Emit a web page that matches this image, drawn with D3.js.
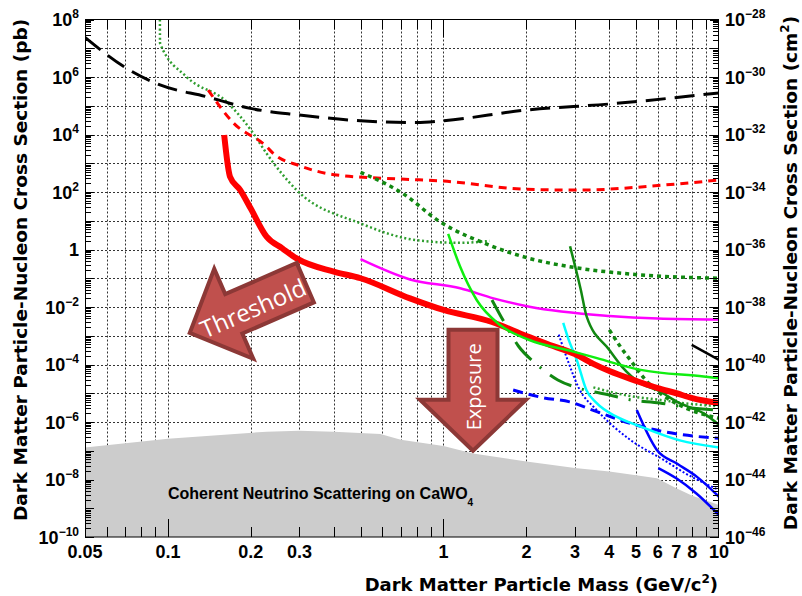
<!DOCTYPE html>
<html>
<head>
<meta charset="utf-8">
<script src="https://cdn.jsdelivr.net/npm/d3@7"></script>
<style>
  body { margin: 0; background: #fff; }
  svg { display: block; }
  .tick-label { font-family: "Liberation Sans", Arial, sans-serif; font-weight: bold; font-size: 18px; fill: #000; }
  .title { font-family: "DejaVu Sans", sans-serif; font-weight: bold; fill: #000; }
  .arrow-text { font-family: "Open Sans", sans-serif; fill: #fff; }
</style>
</head>
<body>
<div id="chart"></div>
<script>
// ---- data: mass in GeV/c^2, cross section in pb ----
var massLabels = [0.05, 0.1, 0.2, 0.3, 1, 2, 3, 4, 5, 6, 7, 8, 10];
var leftExponents = [8, 6, 4, 2, 0, -2, -4, -6, -8, -10];
var pbToCm2 = -36; // 1 pb = 1e-36 cm^2

var blackDashed = [[0.05, 2.4e7], [0.0708, 2.0e6], [0.0936, 5.3e5], [0.138, 2.07e5], [0.199, 8.1e4], [0.30, 4.8e4],
  [0.50, 3.0e4], [0.80, 2.6e4], [1.0, 3.0e4], [2.0, 7.1e4], [4.0, 1.15e5], [10, 2.8e5]];
var redDashed = [[0.140, 3.5e5], [0.173, 2.5e4], [0.228, 3.8e3], [0.241, 2.2e3], [0.30, 822], [0.41, 390],
  [0.695, 283], [1.0, 240], [2.0, 124], [3.13, 117], [6.3, 174], [10, 261]];
var redSolid = [[0.16, 9.6e3], [0.168, 340], [0.183, 117], [0.2, 26], [0.228, 2.8], [0.26, 1.1], [0.293, 0.49],
  [0.4, 0.17], [0.5, 0.1], [0.756, 0.02], [1.0, 7.9e-3], [1.5, 3.0e-3], [2.0, 9.8e-4], [2.5, 4.4e-4], [3.0, 2.3e-4],
  [3.5, 1.05e-4], [4.0, 5.9e-5], [5.0, 2.7e-5], [6.0, 1.5e-5], [7.0, 1.0e-5], [8.0, 6.8e-6], [10, 4.6e-6]];
var lightGreenDotted = [[0.0935, 1e8], [0.0936, 1.5e7], [0.117, 1.0e6], [0.163, 1.4e5], [0.204, 1.1e4],
  [0.228, 2.2e3], [0.293, 117], [0.5, 8.1], [0.8, 2.1], [1.15, 1.7], [1.47, 2.0]];
var darkGreenDotted = [[0.5, 484], [0.71, 90], [0.97, 9.3], [1.47, 1.4], [2.05, 0.49], [2.96, 0.24], [4.76, 0.14], [10, 0.1]];
var magenta = [[0.5, 0.46], [0.756, 0.091], [1.15, 0.045], [1.52, 0.020], [2.05, 0.0102], [4.0, 4.9e-3], [6.0, 4.0e-3], [10, 3.7e-3]];
var brightGreen = [[1.04, 3.5], [1.15, 0.25], [1.32, 0.0175], [1.6, 2.4e-3], [2.05, 7.1e-4], [2.96, 2.8e-4],
  [3.5, 1.8e-4], [5.2, 6.5e-5], [8.8, 3.8e-5], [10, 3.3e-5]];
var darkGreenSolid = [[2.88, 1.3], [3.15, 0.04], [3.31, 4.6e-3], [4.0, 3.2e-4], [4.45, 8.3e-5], [5.2, 2.2e-5],
  [5.95, 1.3e-5], [7.2, 4.5e-6], [8.8, 2.0e-6], [10, 8e-7]];
var darkGreenDashDot = [[1.5, 0.0175], [1.67, 2.7e-3], [1.87, 4.4e-4], [2.17, 1.05e-4], [2.6, 2.9e-5], [3.1, 1.5e-5],
  [4.0, 8.7e-6], [4.76, 5.9e-6], [6.1, 4.6e-6], [7.5, 3.3e-6], [10, 2.6e-6]];
var darkGreenDotted2 = [[4.0, 1.6e-3], [4.4, 4e-4], [4.76, 1.45e-4], [5.4, 3e-5], [6.2, 9e-6], [7.4, 3.4e-6], [10, 1.35e-6]];
var lightGreenDotted2 = [[3.5, 1.6e-5], [4.76, 8e-6], [6.0, 6e-6], [7.5, 4.5e-6], [10, 3.5e-6]];
var cyan = [[2.72, 2.8e-3], [2.85, 7e-4], [3.05, 1.4e-4], [3.3, 1.3e-5], [3.6, 4.5e-6], [4.26, 1.5e-6],
  [5.2, 6.9e-7], [7.2, 2.3e-7], [10, 1.3e-7]];
var blueDashed = [[1.79, 1.3e-5], [2.3, 7e-6], [2.87, 5e-6], [3.6, 2.3e-6], [4.76, 9e-7], [6.3, 4.6e-7], [10, 2.7e-7]];
var blueDotted = [[2.62, 1.1e-3], [2.85, 1.1e-4], [3.1, 1.5e-5], [3.6, 2.6e-6], [4.76, 2.4e-7], [6.3, 4.8e-8],
  [7.5, 1.7e-8], [10, 4.3e-9]];
var blueSolid1 = [[5.03, 2.6e-6], [5.95, 1.07e-7], [7.03, 3.6e-8], [8.3, 1.26e-8], [10, 2.5e-9]];
var blueSolid2 = [[6.02, 2.5e-8], [7.0, 1.1e-8], [8.3, 3.2e-9], [10, 5.8e-10]];
var blackSolid = [[7.96, 4.8e-4], [10, 1.45e-4]];
var neutrinoFloor = [[0.05, 1.3e-7], [0.1, 2.6e-7], [0.228, 4.6e-7], [0.3, 5.0e-7], [0.4, 4.6e-7], [0.59, 3.8e-7],
  [0.7, 2.4e-7], [1.0, 1.46e-7], [1.28, 8.1e-8], [2.0, 4.2e-8], [3.0, 2.5e-8], [4.0, 1.9e-8], [5.0, 1.4e-8],
  [5.95, 1.1e-8], [7.0, 5e-9], [8.0, 2.7e-9], [10, 1.3e-9]];

var width = 802, height = 596;
var margin = {top: 19.5, right: 83, bottom: 59, left: 85};

var x = d3.scaleLog().domain([0.05, 10]).range([margin.left, width - margin.right]);
var y = d3.scaleLog().domain([1e-10, 1e8]).range([height - margin.bottom, margin.top]);
var xL = x.range()[0], xR = x.range()[1], yT = y.range()[1], yB = y.range()[0];

var svg = d3.select("#chart").append("svg")
  .attr("width", width)
  .attr("height", height);

svg.append("clipPath").attr("id", "plot-clip")
  .append("rect").attr("x", xL).attr("y", yT).attr("width", xR - xL).attr("height", yB - yT);

// tick positions on the mass axis (1..9 per decade)
var massTicks = [];
[0.01, 0.1, 1].forEach(function(dec) {
  for (var k = 1; k < 10; k++) {
    var m = +(k * dec).toPrecision(3);
    if (m > 0.05 && m < 10) massTicks.push(m);
  }
});
var decades = d3.range(-10, 9);
var snap = function(v) { return Math.round(v) + 0.5; };

// dotted grid
var grid = svg.append("g")
  .attr("stroke", "#333")
  .attr("stroke-width", 1)
  .attr("stroke-dasharray", "2,2");
grid.selectAll(".vgrid").data(massTicks).enter().append("line")
  .attr("x1", function(d) { return snap(x(d)); })
  .attr("x2", function(d) { return snap(x(d)); })
  .attr("y1", yT).attr("y2", yB);
grid.selectAll(".hgrid").data(decades.slice(1, -1)).enter().append("line")
  .attr("x1", xL).attr("x2", xR)
  .attr("y1", function(d) { return snap(y(Math.pow(10, d))); })
  .attr("y2", function(d) { return snap(y(Math.pow(10, d))); });

// coherent neutrino scattering region
svg.append("path")
  .datum(neutrinoFloor)
  .attr("fill", "#cccccc")
  .attr("d", d3.area()
    .x(function(d) { return x(d[0]); })
    .y0(yB)
    .y1(function(d) { return y(d[1]); }));

svg.append("text")
  .attr("class", "tick-label")
  .attr("x", 168).attr("y", 499)
  .style("font-size", "16px")
  .text("Coherent Neutrino Scattering on CaWO")
  .append("tspan").attr("dy", 7).style("font-size", "10px").text("4");

// exclusion curves
var series = [
  {data: lightGreenDotted, color: "#2f9e2f", w: 2.5, dash: "2,2.5"},
  {data: blackDashed, color: "#000", w: 3, dash: "20,9"},
  {data: redDashed, color: "#ff0000", w: 3, dash: "8,6"},
  {data: darkGreenDotted, color: "#118811", w: 3.5, dash: "4,4"},
  {data: magenta, color: "#ff00ff", w: 2.5},
  {data: lightGreenDotted2, color: "#2f9e2f", w: 2.5, dash: "2,2.5"},
  {data: darkGreenDashDot, color: "#118811", w: 3, dash: "24,11,2,11"},
  {data: darkGreenDotted2, color: "#118811", w: 3.5, dash: "4,4"},
  {data: blueDashed, color: "#0000ff", w: 3, dash: "10,6"},
  {data: blueDotted, color: "#0000ff", w: 2, dash: "2,2"},
  {data: blueSolid1, color: "#0000ff", w: 2.5},
  {data: blueSolid2, color: "#0000ff", w: 2.5},
  {data: cyan, color: "#00ffff", w: 2.5},
  {data: darkGreenSolid, color: "#118811", w: 2.5},
  {data: redSolid, color: "#ff0000", w: 6},
  {data: brightGreen, color: "#10ee10", w: 2.5},
  {data: blackSolid, color: "#000", w: 2.5}
];

var line = d3.line()
  .x(function(d) { return x(d[0]); })
  .y(function(d) { return y(d[1]); })
  .curve(d3.curveMonotoneX);

svg.append("g").attr("clip-path", "url(#plot-clip)")
  .selectAll("path").data(series).enter().append("path")
  .attr("fill", "none")
  .attr("stroke", function(d) { return d.color; })
  .attr("stroke-width", function(d) { return d.w; })
  .attr("stroke-dasharray", function(d) { return d.dash || null; })
  .attr("d", function(d) { return line(d.data); });

// annotation arrows (tip at origin, pointing along +x)
function arrowPath(len, headLen, headHalf, shaftHalf) {
  return "M0,0L" + (-headLen) + "," + headHalf + "L" + (-headLen) + "," + shaftHalf +
    "L" + (-len) + "," + shaftHalf + "L" + (-len) + "," + (-shaftHalf) +
    "L" + (-headLen) + "," + (-shaftHalf) + "L" + (-headLen) + "," + (-headHalf) + "Z";
}

var threshold = svg.append("g")
  .attr("transform", "translate(" + x(0.12) + "," + y(1.25e-3) + ") rotate(156.5)");
threshold.append("path")
  .attr("d", arrowPath(126, 48, 49, 21.5))
  .attr("fill", "#c0504d").attr("stroke", "#8c3836").attr("stroke-width", 4);
threshold.append("text")
  .attr("class", "arrow-text")
  .attr("transform", "translate(-68,-2) rotate(180)")
  .attr("text-anchor", "middle").attr("dominant-baseline", "central")
  .style("font-size", "24px")
  .text("Threshold");

var exposure = svg.append("g")
  .attr("transform", "translate(" + x(1.28) + "," + y(1e-7) + ") rotate(90)");
exposure.append("path")
  .attr("d", arrowPath(121, 51, 53, 24.5))
  .attr("fill", "#c0504d").attr("stroke", "#8c3836").attr("stroke-width", 4);
exposure.append("text")
  .attr("class", "arrow-text")
  .attr("transform", "translate(-64,0) rotate(180)")
  .attr("text-anchor", "middle").attr("dominant-baseline", "central")
  .style("font-size", "20px")
  .text("Exposure");

// frame and ticks
var axes = svg.append("g").attr("stroke", "#000").attr("stroke-width", 1);
axes.append("rect")
  .attr("x", xL + 0.5).attr("y", yT).attr("width", xR - xL - 1).attr("height", yB - yT)
  .attr("fill", "none");

var bigMass = [0.1, 1];
massTicks.forEach(function(m) {
  var len = bigMass.indexOf(m) >= 0 ? 18 : 10;
  axes.append("line").attr("x1", snap(x(m))).attr("x2", snap(x(m))).attr("y1", yB).attr("y2", yB - len);
  axes.append("line").attr("x1", snap(x(m))).attr("x2", snap(x(m))).attr("y1", yT).attr("y2", yT + len);
});

decades.forEach(function(e) {
  for (var k = 1; k < 10; k++) {
    var v = k * Math.pow(10, e);
    if (v > 1e8) break;
    var len = k === 1 ? 9 : 6;
    var py = snap(y(v));
    axes.append("line").attr("x1", xL).attr("x2", xL + len).attr("y1", py).attr("y2", py);
    axes.append("line").attr("x1", xR).attr("x2", xR - len).attr("y1", py).attr("y2", py);
  }
});

// tick labels
svg.selectAll(".xlab").data(massLabels).enter().append("text")
  .attr("class", "tick-label")
  .attr("x", function(d) { return x(d); })
  .attr("y", 558)
  .attr("text-anchor", "middle")
  .text(function(d) { return d; });

function powerLabel(sel, exp) {
  if (exp === 0) { sel.text("1"); return; }
  sel.append("tspan").text("10");
  sel.append("tspan").attr("dy", -8).style("font-size", "12px")
    .text(exp < 0 ? "\u2212" + (-exp) : String(exp));
}

leftExponents.forEach(function(e) {
  var t = svg.append("text").attr("class", "tick-label")
    .attr("x", 79).attr("y", y(Math.pow(10, e)) + 6.5)
    .attr("text-anchor", "end");
  powerLabel(t, e);
  var r = svg.append("text").attr("class", "tick-label")
    .attr("x", 725).attr("y", y(Math.pow(10, e)) + 6.5)
    .attr("text-anchor", "start");
  powerLabel(r, e + pbToCm2);
});

// axis titles
svg.append("text").attr("class", "title")
  .attr("transform", "translate(27,270) rotate(-90)")
  .attr("text-anchor", "middle")
  .style("font-size", "18.5px")
  .text("Dark Matter Particle-Nucleon Cross Section (pb)");

var rt = svg.append("text").attr("class", "title")
  .attr("transform", "translate(797,273) rotate(-90)")
  .attr("text-anchor", "middle")
  .style("font-size", "18.5px")
  .text("Dark Matter Particle-Nucleon Cross Section (cm");
rt.append("tspan").attr("dy", -8).style("font-size", "12px").text("2");
rt.append("tspan").attr("dy", 8).text(")");

var xt = svg.append("text").attr("class", "title")
  .attr("x", 718).attr("y", 591)
  .attr("text-anchor", "end")
  .style("font-size", "18px")
  .text("Dark Matter Particle Mass (GeV/c");
xt.append("tspan").attr("dy", -8).style("font-size", "12px").text("2");
xt.append("tspan").attr("dy", 8).text(")");
</script>
</body>
</html>
